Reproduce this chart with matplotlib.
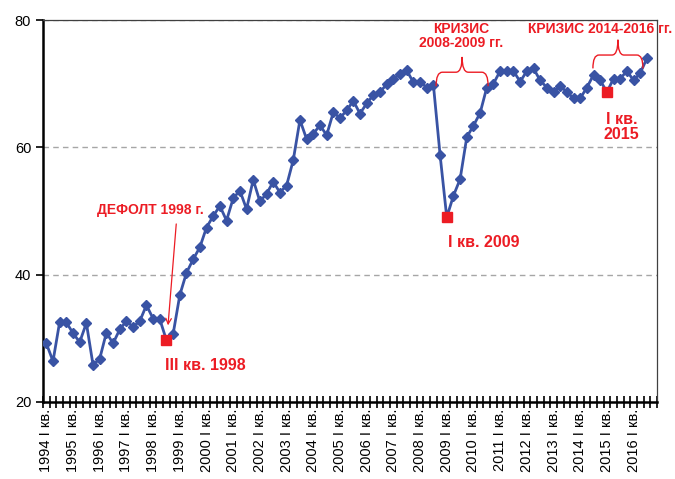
import matplotlib
matplotlib.use("Agg")
import matplotlib.pyplot as plt
from matplotlib.path import Path
from matplotlib.patches import PathPatch
import numpy as np

plt.rcParams['font.family'] = ['Liberation Sans', 'DejaVu Sans']

years = list(range(1994, 2017))
labels = []
for y in years:
    labels += [f"{y} I кв.", "", "", ""]

values = [
    29.2, 26.4, 32.6, 32.5, 30.8, 29.4, 32.4, 25.8,   # 1994-1995
    26.8, 30.9, 29.2, 31.4, 32.7, 31.8, 32.7, 35.2,   # 1996-1997
    33.1, 33.0, 29.7, 30.7, 36.8, 40.3, 42.4, 44.3,   # 1998-1999
    47.4, 49.2, 50.8, 48.5, 52.0, 53.2, 50.3, 54.9,   # 2000-2001
    51.5, 52.7, 54.6, 52.9, 54.0, 58.0, 64.3, 61.3,   # 2002-2003
    62.1, 63.5, 61.9, 65.5, 64.6, 65.8, 67.3, 65.3,   # 2004-2005
    66.9, 68.2, 68.7, 69.9, 70.8, 71.5, 72.1, 70.2,   # 2006-2007
    70.3, 69.4, 69.8, 58.8, 49.0, 52.4, 55.0, 61.6,   # 2008-2009
    63.4, 65.4, 69.4, 70.0, 72.0, 72.0, 72.0, 70.3,   # 2010-2011
    72.0, 72.4, 70.5, 69.4, 68.7, 69.6, 68.7, 67.7,   # 2012-2013
    67.7, 69.4, 71.4, 70.5, 68.7, 70.8, 70.8, 72.0,   # 2014-2015
    70.5, 71.7, 74.0, np.nan,                          # 2016
]
crisis_points = [18, 60, 84]   # III кв. 1998, I кв. 2009, I кв. 2015

blue = "#3953a4"
red = "#ec1c24"

fig = plt.figure(figsize=(6.75, 4.79), dpi=100)
ax = fig.add_axes([0.0637, 0.1608, 0.9096, 0.7974])

x = np.arange(len(values))
ax.plot(x, values, color=blue, lw=2.0, marker="D", ms=5.5, zorder=3)
ax.plot(x[crisis_points], np.array(values)[crisis_points], "s", color=red, ms=7.5, zorder=4)

ax.set_xlim(-0.5, len(values) - 0.5)
ax.set_ylim(20, 80)
ax.set_yticks([20, 40, 60, 80])
for g in [40, 60, 80]:
    ax.axhline(g, color="#a6a6a6", lw=1.0, ls=(0, (4, 3)), zorder=1)

ax.set_xticks(x)
ax.set_xticklabels(labels, rotation=90, fontsize=10.5)
ax.tick_params(axis="x", which="major", length=0, pad=5)
ax.set_xticks(np.arange(-0.5, len(values)), minor=True)
ax.tick_params(axis="x", which="minor", direction="inout", length=8, width=1.2)
ax.tick_params(axis="y", direction="out", length=5, width=1.2, labelsize=10.5)

for s in ["left", "bottom"]:
    ax.spines[s].set_linewidth(1.8)
    ax.spines[s].set_color("black")
for s in ["top", "right"]:
    ax.spines[s].set_linewidth(0.9)
    ax.spines[s].set_color("#404040")


def brace(x0, x1, yb, ym, yt):
    xc = (x0 + x1) / 2
    r = (x1 - x0) * 0.12
    verts = [(x0, yb), (x0, ym), (x0 + r, ym), (xc - r, ym), (xc, ym), (xc, yt),
             (xc, ym), (xc + r, ym), (x1 - r, ym), (x1, ym), (x1, yb)]
    codes = [Path.MOVETO, Path.CURVE3, Path.CURVE3, Path.LINETO, Path.CURVE3, Path.CURVE3,
             Path.CURVE3, Path.CURVE3, Path.LINETO, Path.CURVE3, Path.CURVE3]
    ax.add_patch(PathPatch(Path(verts, codes), fill=False, edgecolor=red, lw=1.0,
                           clip_on=False, zorder=5))


brace(58.4, 66.2, 69.6, 71.8, 74.2)
brace(81.9, 89.4, 72.4, 74.5, 76.9)

kw = dict(color=red, fontweight="bold", ha="center", va="center", clip_on=False)
ax.text(15.6, 50.2, "ДЕФОЛТ 1998 г.", fontsize=10, **kw)
ax.annotate("", xy=(18.2, 31.6), xytext=(19.5, 48.4),
            arrowprops=dict(arrowstyle="->", color=red, lw=0.9))
ax.text(23.8, 25.8, "III кв. 1998", fontsize=11.5, **kw)
ax.text(65.6, 45.0, "I кв. 2009", fontsize=11.5, **kw)
ax.text(62.2, 77.5, "КРИЗИС\n2008-2009 гг.", fontsize=10, linespacing=1.05, **kw)
ax.text(83.0, 78.6, "КРИЗИС 2014-2016 гг.", fontsize=10, **kw)
ax.text(86.2, 63.2, "I кв.\n2015", fontsize=11.5, linespacing=1.0, **kw)

fig.savefig("out.png", dpi=100, facecolor="white")
